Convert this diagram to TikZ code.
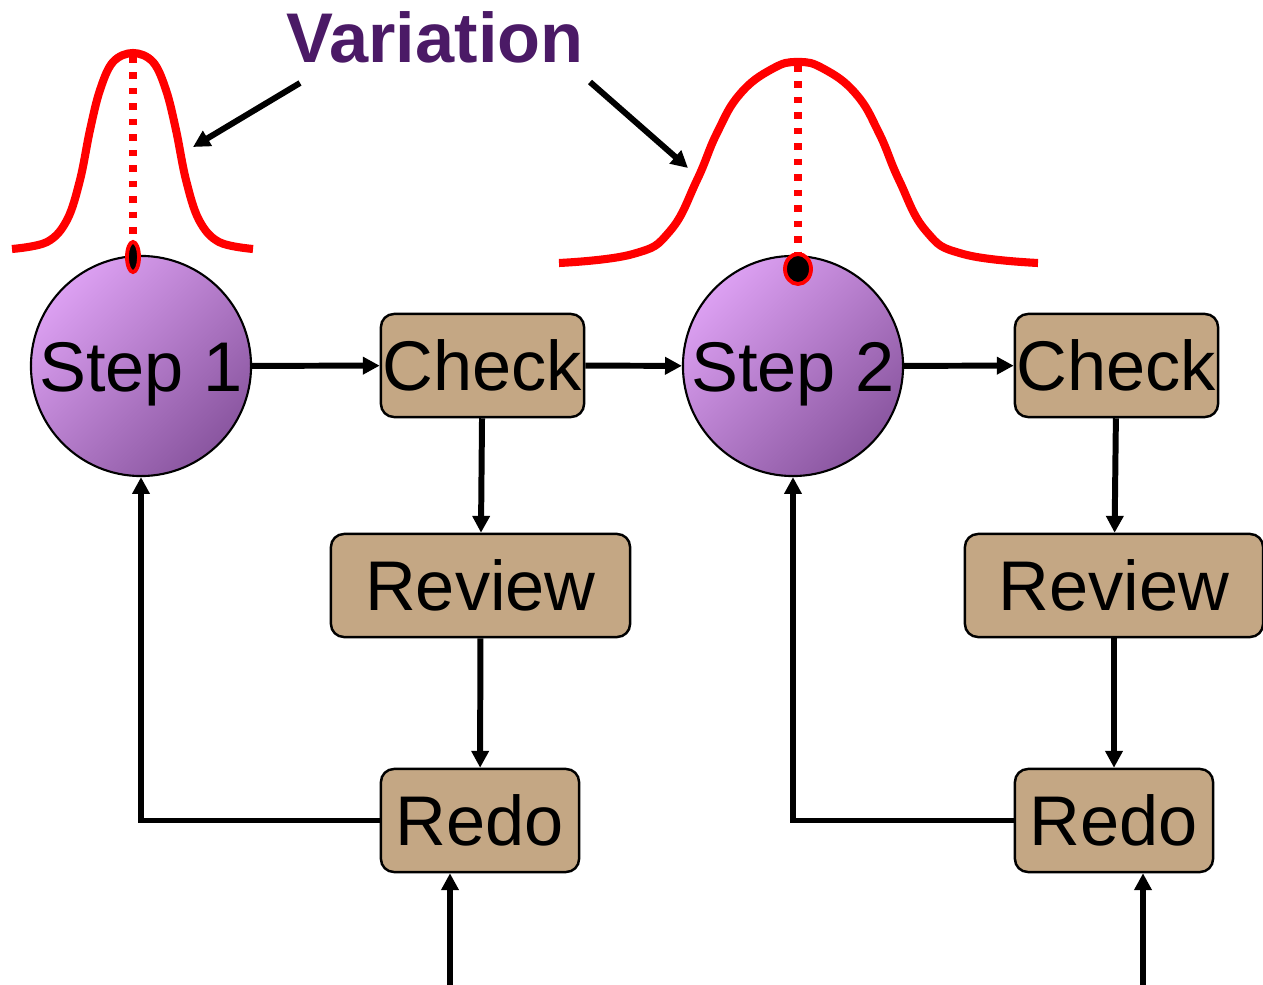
\documentclass[tikz,border=0pt]{standalone}
\usepackage{fontspec}
\setmainfont{Liberation Sans}
\usetikzlibrary{arrows.meta}

\definecolor{stepLight}{HTML}{DCA0F2}
\definecolor{stepDark}{HTML}{8A56A0}
\definecolor{boxTan}{HTML}{C4A784}
\definecolor{varPurple}{HTML}{4B1A66}

\tikzset{
  big/.style={font=\fontsize{20}{24}\selectfont, text height=14.3pt, text depth=0pt},
  stepnode/.style={big, circle, draw=black, line width=0.6pt, minimum size=2.2cm, inner sep=0pt,
    top color=stepLight, bottom color=stepDark, shading angle=45},
  taskbox/.style={big, rectangle, rounded corners=0.13cm, draw=black, line width=0.7pt,
    fill=boxTan, minimum height=1.03cm, inner sep=0pt},
  flow/.style={line width=1.7pt, -{Triangle[length=4.8pt,width=4.8pt]}},
  bell/.style={red, line width=2.3pt, line join=round},
  mean/.style={red, line width=2pt, dash pattern=on 1.8pt off 2.6pt},
}

\begin{document}
\begin{tikzpicture}[x=0.01cm, y=-0.01cm]
  \useasboundingbox (0,0) rectangle (1263,985);

  % the two spreads
  \draw[bell] plot[smooth, tension=0.6] coordinates {(12,249) (47,242) (67,220) (80,180) (90,130)
    (100,90) (113,62) (133,53) (153,62) (166,90) (176,130) (186,180) (199,220) (219,242) (253,249)};
  \draw[bell] plot[smooth, tension=0.75] coordinates {(559,263) (633,254) (670,231) (697,180) (717,133)
    (740,94) (772,69) (798,62) (824,69) (856,94) (879,133) (899,180) (926,231) (963,254) (1038,263)};
  \draw[mean] (133,57) -- (133,243);
  \draw[mean] (798,66) -- (798,254);

  % steps and the loops after them
  \node[stepnode] (step1) at (141,366) {Step 1};
  \node[taskbox, minimum width=2.03cm] (check1) at (482.5,365.5) {Check};
  \node[taskbox, minimum width=2.99cm] (review1) at (480.5,585.5) {Review};
  \node[taskbox, minimum width=1.98cm] (redo1) at (480,820.5) {Redo};

  \node[stepnode] (step2) at (793,366) {Step 2};
  \node[taskbox, minimum width=2.03cm] (check2) at (1116.5,365.5) {Check};
  \node[taskbox, minimum width=2.98cm] (review2) at (1114,585.5) {Review};
  \node[taskbox, minimum width=1.98cm] (redo2) at (1114,820.5) {Redo};

  % means sitting on top of the steps
  \filldraw[fill=black, draw=red, line width=1.1pt] (133,257) ellipse (6 and 15);
  \filldraw[fill=black, draw=red, line width=1.1pt] (798,269) ellipse (13 and 15);

  \draw[flow] (step1) -- (check1);
  \draw[flow] (check1) -- (step2);
  \draw[flow] (step2) -- (check2);
  \foreach \i in {1,2} {
    \draw[flow] (check\i) -- (review\i);
    \draw[flow] (review\i) -- (redo\i);
    \draw[flow] (redo\i.west) -| (step\i.south);
  }
  \coordinate (in1) at (450,985);
  \coordinate (in2) at (1143,985);
  \draw[flow] (in1) -- (in1 |- redo1.south);
  \draw[flow] (in2) -- (in2 |- redo2.south);

  % label and its pointers
  \node[font=\fontsize{20}{24}\selectfont\bfseries, text=varPurple, anchor=base] (variation) at (435,63) {Variation};
  \coordinate (from1) at (300,83);
  \coordinate (tip1) at (193,147);
  \coordinate (from2) at (590,82);
  \coordinate (tip2) at (688,168);
  \draw[flow] (from1) -- (tip1);
  \draw[flow] (from2) -- (tip2);
\end{tikzpicture}
\end{document}
